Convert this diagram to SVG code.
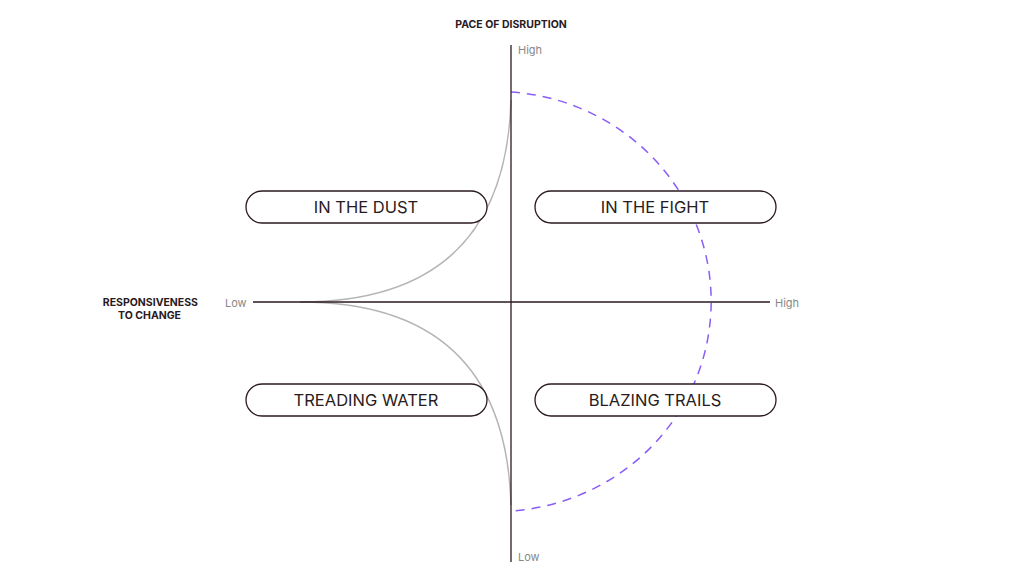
<svg xmlns="http://www.w3.org/2000/svg" width="1024" height="585" viewBox="0 0 1024 585">
<style>
.ax{stroke:#2a1a22;stroke-width:1.3;fill:none}
.cv{stroke:#b5b5b5;stroke-width:1.5;fill:none}
.pill{fill:#fff;stroke:#2a1a22;stroke-width:1.3}
.pt{font-family:Inter,"Liberation Sans",sans-serif;font-size:16.5px;fill:#2a1a22;text-anchor:middle}
.sm{font-family:Inter,"Liberation Sans",sans-serif;font-size:11px;fill:#888}
.tt{font-family:Inter,"Liberation Sans",sans-serif;font-size:10.5px;font-weight:700;fill:#2a1a22}
</style>
<rect width="1024" height="585" fill="#fff"/>
<g id="connectors">
<path class="cv" d="M300,302 Q505,302 511,100"/>
<path class="cv" d="M300,302 Q505,302 511,505"/>
<path d="M511,92 A215,210 0 0 1 511,511" fill="none" stroke="#8b5cf6" stroke-width="1.5" stroke-dasharray="9,7"/>
<line class="ax" x1="511" y1="45" x2="511" y2="562"/>
<line class="ax" x1="253" y1="302" x2="770" y2="302"/>
</g>
<text class="tt" x="511" y="28" text-anchor="middle">PACE OF DISRUPTION</text>
<text class="tt" x="198" y="306" text-anchor="end">RESPONSIVENESS</text>
<text class="tt" x="181" y="319" text-anchor="end">TO CHANGE</text>
<text class="sm" x="518" y="54">High</text>
<text class="sm" x="518" y="561">Low</text>
<text class="sm" x="225" y="307">Low</text>
<text class="sm" x="775" y="307">High</text>
<g id="dust"><rect class="pill" x="246" y="191" width="241" height="32" rx="16"/><text class="pt" x="366" y="213">IN THE DUST</text></g>
<g id="fight"><rect class="pill" x="535" y="191" width="241" height="32" rx="16"/><text class="pt" x="655" y="213">IN THE FIGHT</text></g>
<g id="treading"><rect class="pill" x="246" y="384" width="241" height="32" rx="16"/><text class="pt" x="366" y="406">TREADING WATER</text></g>
<g id="blazing"><rect class="pill" x="535" y="384" width="241" height="32" rx="16"/><text class="pt" x="655" y="406">BLAZING TRAILS</text></g>
</svg>
